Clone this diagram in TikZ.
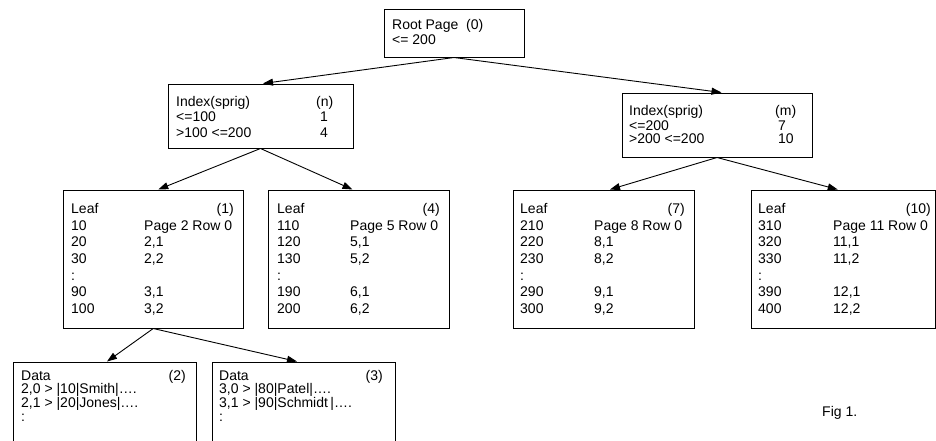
\documentclass[tikz,border=0pt]{standalone}
\usepackage{fontspec}
\setmainfont{Liberation Sans}
\usetikzlibrary{arrows.meta}
\newcommand\rowpair[6]{\node[tl] (#1l) at (#2,#4) {#5}; \node[tl] (#1r) at (#3,#4) {#6};}
\begin{document}
\begin{tikzpicture}[x=1pt,y=-1pt,
  box/.style={draw=black, line width=1pt, inner sep=0pt, fill=white},
  tl/.style={anchor=base west, inner sep=0pt, font=\fontsize{14pt}{16pt}\selectfont},
  tr/.style={anchor=base east, inner sep=0pt, font=\fontsize{14pt}{16pt}\selectfont},
  arr/.style={line width=0.9pt, -{Triangle[length=10pt,width=7pt]}}]
\useasboundingbox (0,0) rectangle (936,440);
\clip (0,0) rectangle (936,440);
\fill[white] (0,0) rectangle (936,440);

% boxes
\node[box, minimum width=140pt, minimum height=48pt] (root) at (454,33) {};
\node[box, minimum width=185pt, minimum height=64pt] (idxn) at (260.5,116) {};
\node[box, minimum width=190pt, minimum height=64pt] (idxm) at (717,125) {};
\node[box, minimum width=180.5pt, minimum height=138pt] (leaf1) at (153.25,259) {};
\node[box, minimum width=181pt, minimum height=138pt] (leaf4) at (358.5,259) {};
\node[box, minimum width=181pt, minimum height=138pt] (leaf7) at (603.5,259) {};
\node[box, minimum width=184.5pt, minimum height=138pt] (leaf10) at (843.25,259) {};
\node[box, minimum width=183pt, minimum height=100pt] (data2) at (104.5,412) {};
\node[box, minimum width=183pt, minimum height=100pt] (data3) at (303.5,412) {};

% connectors
\draw[arr] (root.south) -- ([xshift=2.5pt]idxn.north);
\draw[arr] (root.south) -- ([xshift=4.5pt]idxm.north);
\draw[arr] (idxn.south) -- ([xshift=5pt]leaf1.north);
\draw[arr] (idxn.south) -- ([xshift=-6pt]leaf4.north);
\draw[arr] (idxm.south) -- ([xshift=6.5pt]leaf7.north);
\draw[arr] (idxm.south) -- ([xshift=-5.5pt]leaf10.north);
\draw[arr] (leaf1.south) -- ([xshift=2.5pt]data2.north);
\draw[arr] (leaf1.south) -- ([xshift=-6.5pt]data3.north);

% root text
\node[tl] (rt1) at (392,29.5) {Root Page\ \ (0)};
\node[tl] (rt2) at (392,44.5) {<= 200};

% index n
\node[tl] (in1) at (176,106) {Index(sprig)};
\node[tl] (in1r) at (316,106) {(n)};
\rowpair{in2}{176}{320}{121.7}{<=100}{1}
\rowpair{in3}{176}{320}{137.3}{>100 <=200}{4}

% index m
\node[tl] (im1) at (629,115.5) {Index(sprig)};
\node[tl] (im1r) at (775,115.5) {(m)};
\rowpair{im2}{629}{778}{130}{<=200}{7}
\rowpair{im3}{629}{778}{143.5}{>200 <=200}{10}

% leaf 1
\node[tl] (l1h) at (71,213) {Leaf}; \node[tr] (l1n) at (234,213) {(1)};
\rowpair{l1a}{71}{144}{230}{10}{Page 2 Row 0}
\rowpair{l1b}{71}{144}{246.5}{20}{2,1}
\rowpair{l1c}{71}{144}{263}{30}{2,2}
\node[tl] (l1d) at (71,280) {:};
\rowpair{l1e}{71}{144}{296.5}{90}{3,1}
\rowpair{l1f}{71}{144}{313}{100}{3,2}

% leaf 4
\node[tl] (l4h) at (277,213) {Leaf}; \node[tr] (l4n) at (440,213) {(4)};
\rowpair{l4a}{277}{350}{230}{110}{Page 5 Row 0}
\rowpair{l4b}{277}{350}{246.5}{120}{5,1}
\rowpair{l4c}{277}{350}{263}{130}{5,2}
\node[tl] (l4d) at (277,280) {:};
\rowpair{l4e}{277}{350}{296.5}{190}{6,1}
\rowpair{l4f}{277}{350}{313}{200}{6,2}

% leaf 7
\node[tl] (l7h) at (520,213) {Leaf}; \node[tr] (l7n) at (685,213) {(7)};
\rowpair{l7a}{520}{594}{230}{210}{Page 8 Row 0}
\rowpair{l7b}{520}{594}{246.5}{220}{8,1}
\rowpair{l7c}{520}{594}{263}{230}{8,2}
\node[tl] (l7d) at (520,280) {:};
\rowpair{l7e}{520}{594}{296.5}{290}{9,1}
\rowpair{l7f}{520}{594}{313}{300}{9,2}

% leaf 10
\node[tl] (l10h) at (758,213) {Leaf}; \node[tr] (l10n) at (931,213) {(10)};
\rowpair{l10a}{758}{833}{230}{310}{Page 11 Row 0}
\rowpair{l10b}{758}{833}{246.5}{320}{11,1}
\rowpair{l10c}{758}{833}{263}{330}{11,2}
\node[tl] (l10d) at (758,280) {:};
\rowpair{l10e}{758}{833}{296.5}{390}{12,1}
\rowpair{l10f}{758}{833}{313}{400}{12,2}

% data 2
\node[tl] (d2h) at (21,380.5) {Data}; \node[tr] (d2n) at (186,380.5) {(2)};
\node[tl] (d2a) at (21,393) {2,0 > |10|Smith|….};
\node[tl] (d2b) at (21,407) {2,1 > |20|Jones|….};
\node[tl] (d2c) at (21,421.5) {:};

% data 3
\node[tl] (d3h) at (219,380.5) {Data}; \node[tr] (d3n) at (383,380.5) {(3)};
\node[tl] (d3a) at (219,393) {3,0 > |80|Patel|….};
\node[tl] (d3b) at (219,407) {3,1 > |90|Schmidt\,|….};
\node[tl] (d3c) at (219,421.5) {:};

% caption
\node[tl] (fig) at (822,416) {Fig 1.};
\end{tikzpicture}
\end{document}
